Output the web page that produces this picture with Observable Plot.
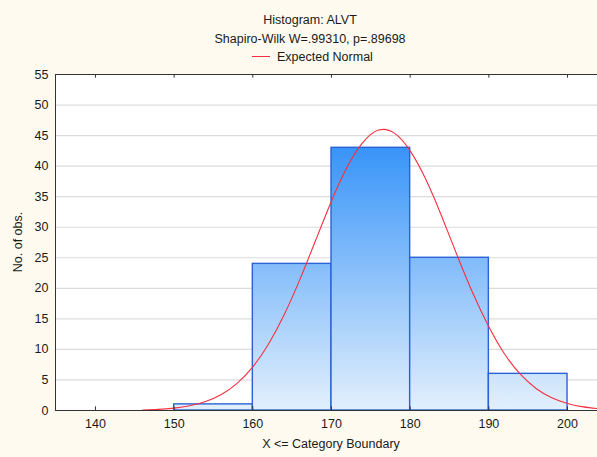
<!DOCTYPE html>
<html><head><meta charset="utf-8">
<script src="https://cdn.jsdelivr.net/npm/d3@7"></script>
<script src="https://cdn.jsdelivr.net/npm/@observablehq/plot@0.6"></script>
<style>
html,body{margin:0;padding:0;background:#fefaef;}
#chart svg{display:block;}
</style></head><body><div id="chart"></div>
<script>
// Histogram bins (category boundaries) and counts
const binLower = [150, 160, 170, 180, 190];
const binUpper = [160, 170, 180, 190, 200];
const counts = [1, 24, 43, 25, 6];

// Expected normal curve
const curveX = [146, 148, 150, 152, 154, 156, 158, 160, 162, 164, 166, 168, 170, 172, 174, 176, 178, 180, 182, 184, 186, 188, 190, 192, 194, 196, 198, 200, 202, 204];
const curveY = [0.08, 0.18, 0.39, 0.77, 1.46, 2.61, 4.43, 7.14, 10.9, 15.7, 21.5, 27.9, 34.3, 39.9, 43.9, 45.9, 45.4, 42.5, 37.8, 31.8, 25.3, 19.1, 13.7, 9.25, 5.94, 3.61, 2.08, 1.14, 0.59, 0.29];

// Axis ticks
const xTicks = [140, 150, 160, 170, 180, 190, 200];
const yTicks = [0, 5, 10, 15, 20, 25, 30, 35, 40, 45, 50, 55];

const titleText = "Histogram: ALVT";
const subtitleText = "Shapiro-Wilk W=.99310, p=.89698";
const legendText = "Expected Normal";
const xLabelText = "X <= Category Boundary";
const yLabelText = "No. of obs.";

const bins = binLower.map((lo, i) => ({lo, hi: binUpper[i], count: counts[i]}));
const curve = curveX.map((x, i) => ({x, y: curveY[i]}));

const FONT = "'Liberation Sans', Arial, sans-serif";
const TXT = "#1a1a1a";
const xDomain = [134.92, 203.81];

function decorations(index, scales, values, dims) {
  const g = d3.create("svg:g");
  const defs = g.append("defs");
  const yf = typeof scales.y === "function" ? scales.y : (v) => dims.marginTop + (55 - v) / 55 * (dims.height - dims.marginTop - dims.marginBottom);
  const grad = defs.append("linearGradient").attr("id", "barGrad")
    .attr("gradientUnits", "userSpaceOnUse")
    .attr("x1", 0).attr("x2", 0).attr("y1", yf(43)).attr("y2", yf(0));
  grad.append("stop").attr("offset", 0).attr("stop-color", "#3894f8");
  grad.append("stop").attr("offset", 1).attr("stop-color", "#e3f0fd");
  const t = g.append("g").attr("font-family", FONT).attr("font-size", 12.5).attr("fill", TXT).attr("text-anchor", "middle");
  t.append("text").attr("x", 310).attr("y", 24).text(titleText);
  t.append("text").attr("x", 310).attr("y", 43).text(subtitleText);
  g.append("line").attr("x1", 252).attr("x2", 270).attr("y1", 56.5).attr("y2", 56.5).attr("stroke", "#f53040").attr("stroke-width", 1);
  t.append("text").attr("x", 277).attr("y", 61).attr("text-anchor", "start").text(legendText);
  t.append("text").attr("x", 331).attr("y", 448).text(xLabelText);
  t.append("text").attr("transform", "translate(22,242) rotate(-90)").text(yLabelText);
  return g.node();
}

const chart = Plot.plot({
  width: 597,
  height: 457,
  marginLeft: 55,
  marginRight: 0,
  marginTop: 74,
  marginBottom: 47,
  style: {background: "transparent", fontFamily: FONT, fontSize: "12.5px", color: TXT},
  x: {domain: xDomain, axis: null},
  y: {domain: [0, 55], axis: null},
  marks: [
    decorations,
    Plot.frame({fill: "white", stroke: "none"}),
    Plot.gridY(yTicks, {stroke: "#dcdcdc", strokeOpacity: 1, strokeWidth: 1.2}),
    Plot.rectY(bins, {x1: "lo", x2: "hi", y: "count", fill: "url(#barGrad)", stroke: "#2a62d6", strokeWidth: 1.4}),
    Plot.line(curve, {x: "x", y: "y", stroke: "#f53040", strokeWidth: 1.1, curve: "natural"}),
    Plot.ruleY([0], {stroke: "#333"}),
    Plot.ruleY([55], {stroke: "#333"}),
    Plot.ruleX([xDomain[0]], {stroke: "#333"}),
    Plot.ruleX(xTicks, {y1: 0, y2: 0.6, stroke: "#333"}),
    Plot.ruleX(xTicks, {y1: 54.4, y2: 55, stroke: "#333"}),
    Plot.axisX(xTicks, {tickSize: 0, tickPadding: 9, fontSize: 12.5, fill: TXT, label: null}),
    Plot.axisY(yTicks, {tickSize: 0, tickPadding: 7, fontSize: 12.5, fill: TXT, label: null})
  ]
});
document.getElementById("chart").append(chart);
</script></body></html>
